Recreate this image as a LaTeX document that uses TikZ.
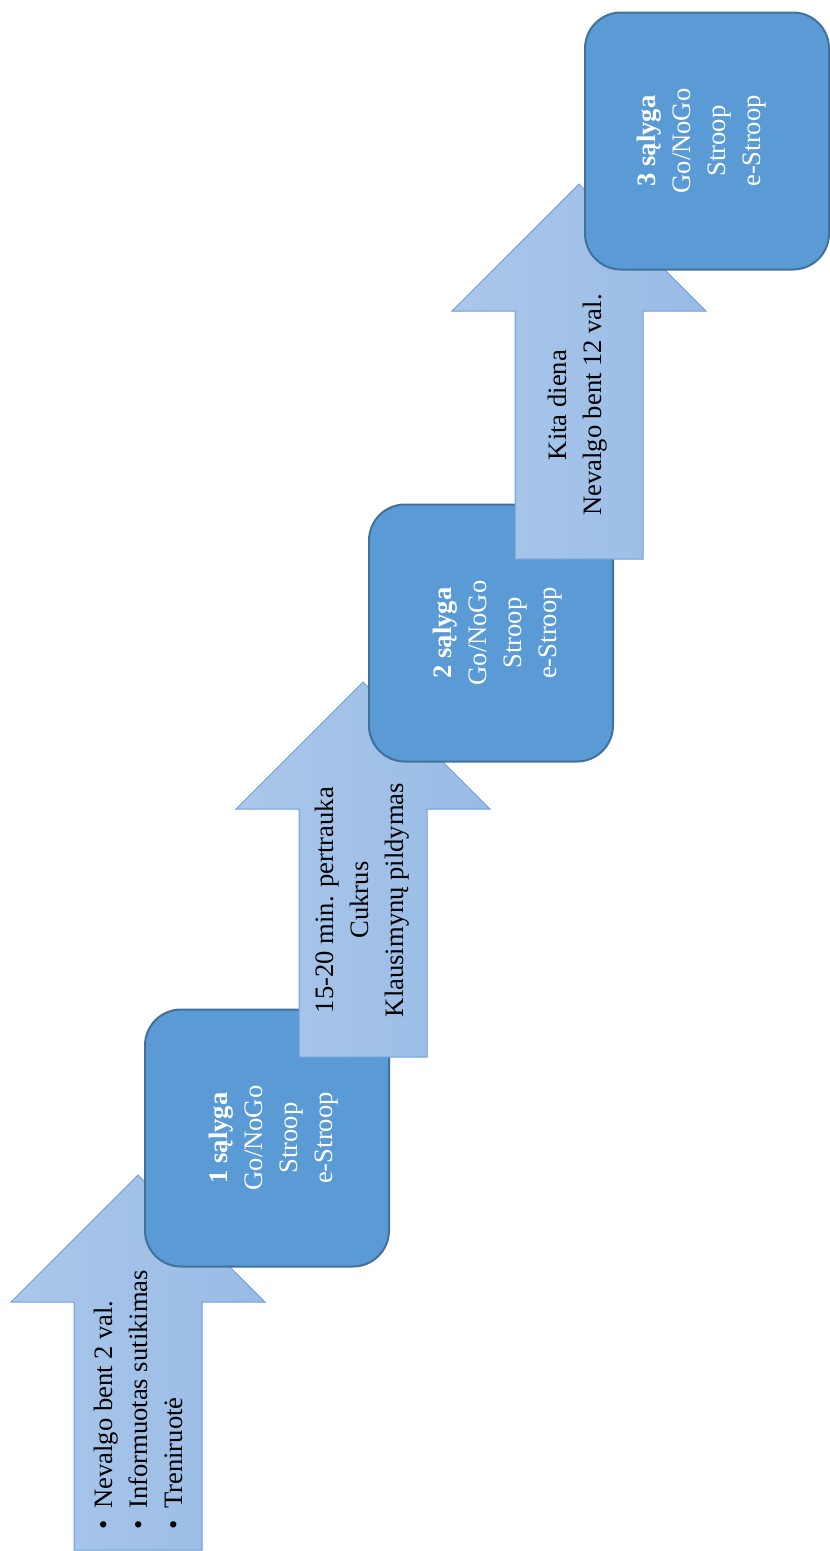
\documentclass[tikz,border=0pt]{standalone}
\usepackage{fontspec}
\setmainfont{Liberation Serif}
\usetikzlibrary{calc}
\definecolor{boxfill}{RGB}{91,155,213}
\definecolor{boxline}{RGB}{65,113,156}
\definecolor{arrowlt}{RGB}{171,199,234}
\definecolor{arrowdk}{RGB}{152,187,229}
\definecolor{arrowline}{RGB}{108,160,216}
\tikzstyle{stepfont}=[font=\fontsize{26.6}{35}\selectfont]
\tikzstyle{stepbox}=[draw=boxline,fill=boxfill,line width=2pt,rounded corners=36pt,rotate=90,minimum width=257pt,minimum height=244pt,inner sep=0pt]
\tikzstyle{boxtext}=[stepfont,rotate=90,inner sep=0pt,text=white,align=center]
\tikzstyle{steparrow}=[draw=arrowline,line width=1pt,left color=arrowlt,right color=arrowdk]
\tikzstyle{arrowtext}=[stepfont,rotate=90,inner sep=0pt,text=black]

\begin{document}
\begin{tikzpicture}[x=1pt,y=-1pt]
  \useasboundingbox (0,0) rectangle (830,1551);

  % ARROW 1
  \path[steparrow] (74,1550) -- ++(0,-248) -- ++(-63,0) -- ++(127,-127) -- ++(127,127) -- ++(-63,0) -- ++(0,248) -- cycle;
  \node[arrowtext,align=left] (prep) at (138,1400)
    {\textbullet\hspace{0.45em}Nevalgo bent 2 val.\\\textbullet\hspace{0.45em}Informuotas sutikimas\\\textbullet\hspace{0.45em}Treniruotė};

  % CONDITION 1
  \node[stepbox] (cond1) at (267,1138) {};
  \node[boxtext] (cond1txt) at ($(cond1.center)+(7,0)$) {\textbf{1 sąlyga}\\Go/NoGo\\Stroop\\e-Stroop};

  % ARROW 2
  \path[steparrow] (299,1057) -- ++(0,-248) -- ++(-63,0) -- ++(127,-127) -- ++(127,127) -- ++(-63,0) -- ++(0,248) -- cycle;
  \node[arrowtext,align=center] (pause) at (362,900)
    {15-20 min. pertrauka\\Cukrus\\Klausimynų pildymas};

  % CONDITION 2
  \node[stepbox] (cond2) at (491,633) {};
  \node[boxtext] (cond2txt) at ($(cond2.center)+(7,0)$) {\textbf{2 sąlyga}\\Go/NoGo\\Stroop\\e-Stroop};

  % ARROW 3
  \path[steparrow] (515,559) -- ++(0,-248) -- ++(-63,0) -- ++(127,-127) -- ++(127,127) -- ++(-63,0) -- ++(0,248) -- cycle;
  \node[arrowtext,align=center] (nextday) at (578,405)
    {Kita diena\\Nevalgo bent 12 val.};

  % CONDITION 3
  \node[stepbox] (cond3) at (707,141) {};
  \node[boxtext] (cond3txt) at ($(cond3.center)+(-5,0)$) {\textbf{3 sąlyga}\\Go/NoGo\\Stroop\\e-Stroop};

\end{tikzpicture}
\end{document}
